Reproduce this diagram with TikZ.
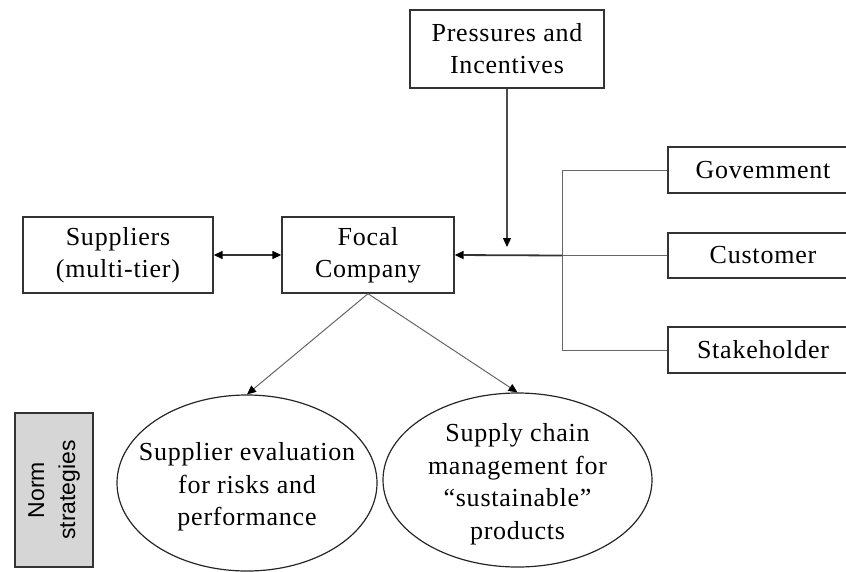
\documentclass[tikz,border=0pt]{standalone}
\usepackage{fontspec}
\setmainfont{Liberation Serif}[LetterSpace=3]
\setsansfont{Liberation Sans}
\usetikzlibrary{arrows.meta,shapes.geometric}
\begin{document}
\begin{tikzpicture}[x=1pt,y=-1pt,
  box/.style={draw=black!80, line width=1.4pt, rectangle, fill=white, inner sep=0pt, align=center, font=\fontsize{26}{32}\selectfont},
  ell/.style={draw=black!85, line width=1.2pt, ellipse, inner sep=0pt},
  etext/.style={align=center, inner sep=0pt, font=\fontsize{26}{32.5}\selectfont},
  conn/.style={draw=black!60, line width=1pt},
  tipped/.style={-{Triangle[length=9pt,width=8pt,color=black,fill=black]}},
  main/.style={draw=black!80, line width=1.8pt}
]
\useasboundingbox (0,0) rectangle (846,571);
\clip (0,0) rectangle (846,571);

\node[box, minimum width=194pt, minimum height=78pt] (press) at (507,49) {Pressures and\\Incentives};
\node[box, minimum width=172pt, minimum height=76pt] (focal) at (368,255) {Focal\\Company};
\node[box, minimum width=190pt, minimum height=76pt] (supp) at (118,255) {Suppliers\\(multi-tier)};
\node[box, minimum width=190pt, minimum height=46pt] (gov) at (763,170) {Govemment};
\node[box, minimum width=190pt, minimum height=45pt] (cust) at (763,255.5) {Customer};
\node[box, minimum width=190pt, minimum height=46pt] (stake) at (763,350) {Stakeholder};

\node[ell, minimum width=260pt, minimum height=176pt] (ellL) at (247,483) {};
\node[etext] (ellLt) at (247,487) {Supplier evaluation\\for risks and\\performance};
\node[ell, minimum width=269pt, minimum height=174pt] (ellR) at (517.5,480) {};
\node[etext] (ellRt) at (517.5,484) {Supply chain\\management for\\``sustainable''\\products};

\node[draw=black!80, line width=1.4pt, fill=black!16, minimum width=154pt, minimum height=78pt, inner sep=0pt, rotate=90, align=center, font=\sffamily\fontsize{23}{31}\selectfont] (norm) at (54,490) {Norm\\strategies};

\coordinate (pend) at (507,247);
\coordinate (jtop) at (562,170);
\coordinate (jmid) at (562,255.5);
\coordinate (jbot) at (562,350);

\draw[conn] (gov.west) -- (jtop) -- (jbot) -- (stake.west);
\draw[conn] (cust.west) -- (jmid);
\draw[main, tipped] (jmid) -- (focal.east);
\draw[conn, line width=1.3pt, black!70, tipped] (press.south) -- (pend);
\draw[main, line width=1.5pt, {Triangle[length=9pt,width=8pt,color=black,fill=black]}-{Triangle[length=9pt,width=8pt,color=black,fill=black]}] (supp.east) -- (focal.west);
\draw[conn, tipped] (focal.south) -- (ellL.north);
\draw[conn, tipped] (focal.south) -- (ellR.north);
\end{tikzpicture}
\end{document}
